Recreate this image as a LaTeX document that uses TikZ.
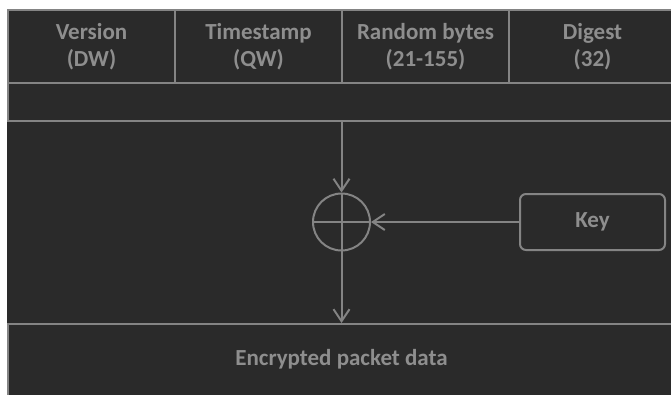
\documentclass[tikz,border=0pt]{standalone}
\usepackage{fontspec}
\setmainfont{Carlito}
\usetikzlibrary{arrows.meta}
\definecolor{bgdark}{HTML}{2A2A2A}
\definecolor{linegray}{HTML}{848484}
\definecolor{textgray}{HTML}{8E8E8E}
\tikzset{
  lbl/.style={text=textgray, font=\fontsize{23}{27}\selectfont\bfseries},
  cell/.style={draw=linegray, line width=2pt, fill=bgdark, anchor=north west, inner sep=0pt,
    minimum width=167pt, minimum height=73pt, align=center, lbl},
  band/.style={draw=linegray, line width=2pt, fill=bgdark, anchor=north west, inner sep=0pt,
    minimum width=669pt, minimum height=38pt},
  bigbox/.style={draw=linegray, line width=2pt, fill=bgdark, anchor=north west, inner sep=0pt,
    minimum width=669pt, minimum height=90pt},
  xorc/.style={circle, draw=linegray, line width=2pt, minimum size=57pt, inner sep=0pt},
  keybox/.style={draw=linegray, line width=2pt, rounded corners=6pt, minimum width=145pt,
    minimum height=56pt, inner sep=0pt, lbl},
  conn/.style={draw=linegray, line width=2pt},
  arr/.style={conn, -{Straight Barb[length=12pt, width=16pt, line width=2pt]}}
}
\begin{document}
\begin{tikzpicture}[x=1pt, y=-1pt]
\useasboundingbox (0,0) rectangle (671,394);
\fill[white] (0,0) rectangle (671,394);
\clip (0,0) rectangle (671,394);
\fill[bgdark] (7,9) rectangle (680,400);
\node[cell] (ver) at (7,9) {Version\\(DW)};
\node[cell] (ts) at (174,9) {Timestamp\\(QW)};
\node[cell] (rnd) at (341,9) {Random bytes\\(21-155)};
\node[cell] (dig) at (508,9) {Digest\\(32)};
\node[band] (bnd) at (7,82) {};
\node[bigbox] (enc) at (7,323) {};
\node[lbl] (enclbl) at (341.5,359) {Encrypted packet data};
\node[xorc] (x) at (341.5,222) {};
\draw[conn] (x.north) -- (x.south);
\draw[conn] (x.west) -- (x.east);
\node[keybox] (key) at (592.5,222) {Key};
\draw[arr] (x.north |- bnd.south) -- (x.north);
\draw[arr] (x.south) -- (x.south |- enc.north);
\draw[arr] (key.west) -- (x.east);
\end{tikzpicture}
\end{document}
